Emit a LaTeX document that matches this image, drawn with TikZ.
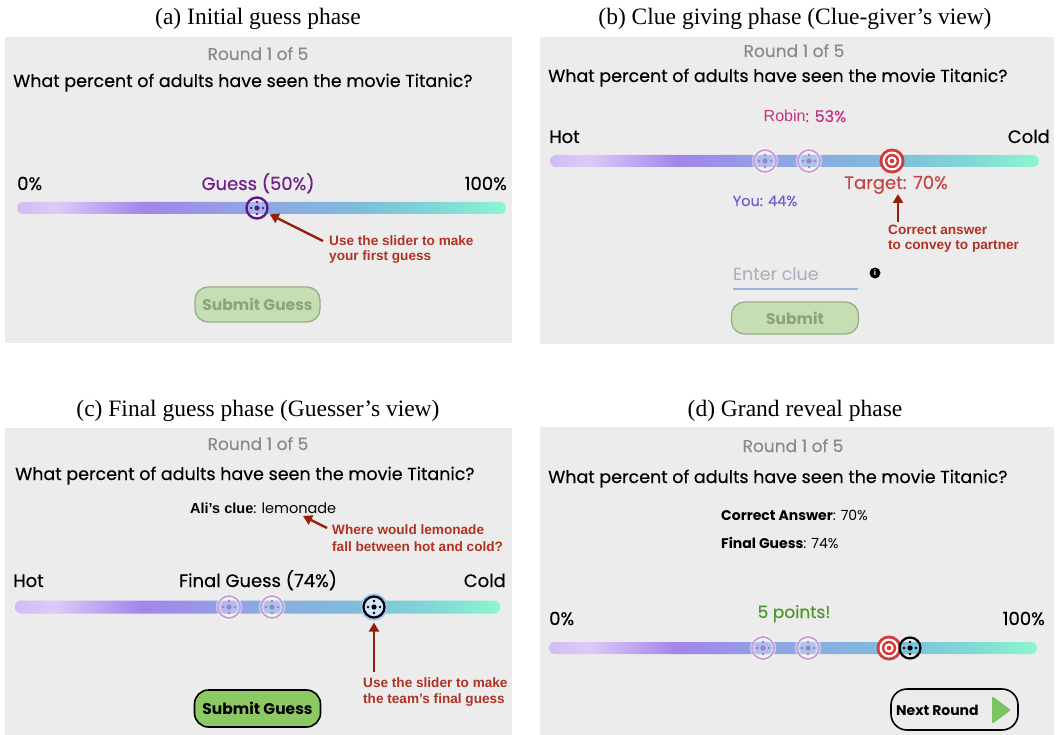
\documentclass[tikz,border=0pt]{standalone}
\usepackage{fontspec}
\setmainfont{Liberation Serif}
\newfontfamily\uifont{Poppins}
\newfontfamily\uimed[FakeBold=0.35]{Poppins}
\newfontfamily\arialfont{Liberation Sans}
\usetikzlibrary{arrows.meta,calc}
\newcommand\setfs[1]{\fontsize{#1}{#1}\selectfont}

\definecolor{panelbg}{HTML}{EDECEC}
\definecolor{roundgray}{HTML}{8A8A8A}
\definecolor{notered}{HTML}{AF3223}
\definecolor{arrowred}{HTML}{961E0A}
\definecolor{guesspurple}{HTML}{6E1E8C}
\definecolor{thumbpurple}{HTML}{5F1987}
\definecolor{fadering}{HTML}{C79FD6}
\definecolor{fadedot}{HTML}{9684CC}
\definecolor{targetred}{HTML}{D23C3C}
\definecolor{robinpink}{HTML}{C33282}
\definecolor{targettext}{HTML}{C34646}
\definecolor{youblue}{HTML}{6E5AD2}
\definecolor{cluegray}{HTML}{A5AFBE}
\definecolor{clueline}{HTML}{9BB4DA}
\definecolor{pointsgreen}{HTML}{50962A}
\definecolor{btnlight}{HTML}{C6DEB4}
\definecolor{btnlightborder}{HTML}{98AE88}
\definecolor{btnlighttext}{HTML}{8EA27E}
\definecolor{btngreen}{HTML}{8CC864}
\definecolor{nextfill}{HTML}{EBEBEB}
\definecolor{playgreen}{HTML}{7DC35F}
\definecolor{haloblue}{HTML}{9CC4EE}
\definecolor{tr0}{HTML}{D0BCF6}
\definecolor{tr1}{HTML}{DCCBF8}
\definecolor{tr2}{HTML}{A385EA}
\definecolor{tr3}{HTML}{8EA6E4}
\definecolor{tr4}{HTML}{7FBCDB}
\definecolor{tr5}{HTML}{80D8D6}
\definecolor{tr6}{HTML}{8CF6D1}

% colour ramp of the slider track (25bp..75bp span the track)
\pgfdeclarehorizontalshading{trackshade}{100bp}{%
  color(0bp)=(tr0); color(25bp)=(tr0); color(29bp)=(tr1);
  color(38bp)=(tr2); color(49bp)=(tr3); color(60bp)=(tr4);
  color(68bp)=(tr5); color(75bp)=(tr6); color(100bp)=(tr6)}

\tikzset{
  panel/.style={fill=panelbg},
  capt/.style={font=\setfs{23.5}, anchor=base},
  rnd/.style={font=\uimed\setfs{17}, text=roundgray, anchor=base},
  quest/.style={font=\uimed\setfs{17.5}, anchor=base west, inner sep=0pt},
  uilabel/.style={font=\uimed\setfs{18}, anchor=base, inner sep=0pt},
  note/.style={font=\arialfont\bfseries\setfs{13.6}, text=notered, anchor=base west, inner sep=0pt},
  notearrow/.style={draw=arrowred, line width=2.3pt,
    -{Triangle[length=9pt,width=10pt]}},
  track/.style={shading=trackshade, rounded corners=6pt, minimum height=12pt,
    inner sep=0pt, draw=none},
  thumbdots/.style={path picture={
    \fill[#1] (path picture bounding box.center) circle (2.6pt);
    \foreach \ang in {0,90,180,270}
      \fill[#1] ($(path picture bounding box.center)+(\ang:6pt)$) circle (1.3pt);}},
  fadedthumb/.style={circle, minimum size=22pt, inner sep=0pt, draw=fadering,
    line width=1.8pt, preaction={fill=white, fill opacity=0.3},
    preaction={draw=white, draw opacity=0.45, line width=4.5pt},
    thumbdots=fadedot},
  activethumb/.style={circle, minimum size=21pt, inner sep=0pt, draw=thumbpurple,
    line width=2.4pt, preaction={fill=white, fill opacity=0.2},
    thumbdots=thumbpurple},
  blackthumb/.style={circle, minimum size=21pt, inner sep=0pt, draw=black,
    line width=2.2pt, thumbdots=black},
  target/.style={circle, minimum size=25pt, inner sep=0pt, fill=targetred,
    path picture={
      \coordinate (tc) at (path picture bounding box.center);
      \fill[white] (tc) circle (9.5pt);
      \fill[targetred] (tc) circle (7.2pt);
      \fill[white] (tc) circle (4.7pt);
      \fill[targetred] (tc) circle (2.3pt);}},
  btnoff/.style={rounded corners=13pt, fill=btnlight, draw=btnlightborder,
    line width=1.3pt, font=\uifont\bfseries\setfs{15.5}, text=btnlighttext,
    inner sep=0pt},
  btnon/.style={rounded corners=14pt, fill=btngreen, draw=black,
    line width=1.6pt, font=\uifont\bfseries\setfs{15.5}, text=black,
    inner sep=0pt},
}

\begin{document}
\begin{tikzpicture}[x=1pt,y=-1pt]
\useasboundingbox (0,0) rectangle (1059,735);
\fill[white] (0,0) rectangle (1059,735);

%% ---------------- (a) Initial guess phase ----------------
\node[capt] (a-cap) at (258,25) {(a) Initial guess phase};
\fill[panel] (5,37) rectangle (512,343);
\node[rnd] (a-round) at (258,60) {Round 1 of 5};
\node[quest] (a-q) at (13,87) {What percent of adults have seen the movie Titanic?};
\node[uilabel, anchor=base west] (a-lo) at (17,190) {0\%};
\node[uilabel, text=guesspurple] (a-guess) at (258,190) {Guess (50\%)};
\node[uilabel, anchor=base east] (a-hi) at (507,190) {100\%};
\node[track, minimum width=489pt] (a-track) at (261.5,208) {};
\node[activethumb] (a-thumb) at (257,208) {};
\node[note] (a-note1) at (329,246) {Use the slider to make};
\node[note] (a-note2) at (329,261) {your first guess};
\coordinate (a-tail) at (323,241);
\draw[notearrow, shorten >=2.5pt] (a-tail) -- (a-thumb);
\node[btnoff, minimum width=125pt, minimum height=35pt] (a-btn) at (257.5,304.5) {Submit Guess};

%% ---------------- (b) Clue giving phase ----------------
\node[capt] (b-cap) at (795,25) {(b) Clue giving phase (Clue-giver’s view)};
\fill[panel] (540,37) rectangle (1054,344);
\node[rnd] (b-round) at (794,57) {Round 1 of 5};
\node[quest] (b-q) at (548,82) {What percent of adults have seen the movie Titanic?};
\node[uilabel, text=robinpink, font=\uimed\setfs{16}] (b-robin) at (805,122) {{\arialfont Robin}: 53\%};
\node[uilabel, anchor=base west] (b-hot) at (549,143) {Hot};
\node[uilabel, anchor=base east] (b-cold) at (1050,143) {Cold};
\node[track, minimum width=489pt] (b-track) at (794.5,161) {};
\node[fadedthumb] (b-you) at (765,161) {};
\node[fadedthumb] (b-partner) at (809,161) {};
\node[target] (b-target) at (892,161) {};
\node[uilabel, text=targettext] (b-tlabel) at (896,189) {Target: 70\%};
\node[uilabel, text=youblue, font=\uimed\setfs{14.5}] (b-ylabel) at (765,206) {You: 44\%};
\coordinate (b-tail) at (898,222);
\draw[notearrow] (b-tail) -- (898,194);
\node[note] (b-note1) at (888,235) {Correct answer};
\node[note] (b-note2) at (888,250) {to convey to partner};
\node[uilabel, anchor=base west, text=cluegray, font=\uifont\setfs{17.5}] (b-clue) at (733,280) {Enter clue};
\draw[clueline, line width=1.2pt] (b-clue.south west |- 0,289) -- (858,289);
\node[circle, fill=black, minimum size=11pt, inner sep=0pt, text=white,
  font=\arialfont\bfseries\setfs{8}] (b-info) at (875,273) {i};
\node[btnoff, minimum width=127pt, minimum height=32pt] (b-btn) at (795,318) {Submit};

%% ---------------- (c) Final guess phase ----------------
\node[capt] (c-cap) at (258,416) {(c) Final guess phase (Guesser’s view)};
\fill[panel] (5,428) rectangle (512,735);
\node[rnd] (c-round) at (258,450) {Round 1 of 5};
\node[quest] (c-q) at (15,480) {What percent of adults have seen the movie Titanic?};
\node[uilabel, anchor=base west, font=\uifont\setfs{14.5}] (c-clue) at (190,513)
  {{\arialfont\bfseries Ali’s clue}: lemonade};
\coordinate (c-cluetip) at (303,516);
\coordinate (c-cluetail) at (327,528);
\draw[notearrow] (c-cluetail) -- (c-cluetip);
\node[note] (c-note1) at (332,534) {Where would lemonade};
\node[note] (c-note2) at (332,551) {fall between hot and cold?};
\node[uilabel, anchor=base west] (c-hot) at (13,587) {Hot};
\node[uilabel] (c-final) at (258,587) {Final Guess (74\%)};
\node[uilabel, anchor=base east] (c-cold) at (506,587) {Cold};
\node[track, minimum width=485pt, minimum height=13pt] (c-track) at (257.5,607) {};
\node[fadedthumb] (c-you) at (229,607) {};
\node[fadedthumb] (c-partner) at (272,607) {};
\node[blackthumb, preaction={draw=haloblue, line width=6pt},
  preaction={fill=haloblue!45}] (c-thumb) at (374,607) {};
\coordinate (c-tail) at (374,672);
\draw[notearrow, shorten >=4pt] (c-tail) -- (c-thumb);
\node[note] (c-note3) at (363,687) {Use the slider to make};
\node[note] (c-note4) at (363,703) {the team’s final guess};
\node[btnon, minimum width=126pt, minimum height=37pt] (c-btn) at (257.5,708.5) {Submit Guess};

%% ---------------- (d) Grand reveal phase ----------------
\node[capt] (d-cap) at (795,416) {(d) Grand reveal phase};
\fill[panel] (540,427) rectangle (1054,735);
\node[rnd] (d-round) at (793,452) {Round 1 of 5};
\node[quest] (d-q) at (548,483) {What percent of adults have seen the movie Titanic?};
\node[uilabel, anchor=base west, font=\uifont\setfs{14}] (d-correct) at (721,520)
  {{\bfseries Correct Answer}: 70\%};
\node[uilabel, anchor=base west, font=\uifont\setfs{14}] (d-final) at (721,548)
  {{\bfseries Final Guess}: 74\%};
\node[uilabel, anchor=base west] (d-lo) at (549,625) {0\%};
\node[uilabel, text=pointsgreen, font=\uimed\setfs{17}] (d-points) at (794,618) {5 points!};
\node[uilabel, anchor=base east] (d-hi) at (1045,625) {100\%};
\node[track, minimum width=488pt] (d-track) at (793,648) {};
\node[fadedthumb] (d-you) at (763,648) {};
\node[fadedthumb] (d-partner) at (808,648) {};
\node[target] (d-target) at (889,648) {};
\node[blackthumb] (d-thumb) at (910,648) {};
\node[rounded corners=16pt, fill=nextfill, draw=black, line width=1.6pt,
  minimum width=127pt, minimum height=41pt, inner sep=0pt] (d-btn) at (954.5,709.5) {};
\node[uilabel, anchor=base west, font=\uifont\bfseries\setfs{14}] (d-next) at (896,715) {Next Round};
\fill[playgreen, rounded corners=1.5pt] (992,696) -- (1011,710) -- (992,724) -- cycle;
\end{tikzpicture}
\end{document}
